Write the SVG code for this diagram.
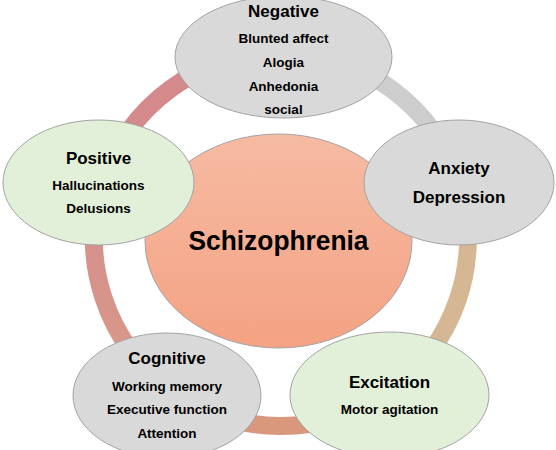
<svg xmlns="http://www.w3.org/2000/svg" width="556" height="450" viewBox="0 0 556 450">
<defs>
<linearGradient id="core" x1="0" y1="0" x2="0" y2="1">
<stop offset="0" stop-color="#f6bba3"/>
<stop offset="1" stop-color="#f4a283"/>
</linearGradient>
<linearGradient id="leftArc" gradientUnits="userSpaceOnUse" x1="0" y1="390" x2="0" y2="184">
<stop offset="0" stop-color="#d99a88"/>
<stop offset="1" stop-color="#d48d8d"/>
</linearGradient>
<style>
.arc{fill:none;stroke-width:18}
.node{stroke:#a3a3a3;stroke-width:1}
.gray{fill:#d9d9d9}
.green{fill:#e2efd9}
text{font-family:"Liberation Sans",Arial,sans-serif;font-weight:bold;fill:#000;text-anchor:middle}
.t{font-size:17px}
.s{font-size:13.5px}
</style>
</defs>
<rect width="556" height="450" fill="#ffffff"/>
<g id="connectors">
<path class="arc" stroke="#cdcdcd" d="M281,53 A187,187 0 0 1 458.9,182.2"/>
<path class="arc" stroke="#d5b893" d="M458.9,182.2 A187,187 0 0 1 388.3,392.2"/>
<path class="arc" stroke="#d9977c" d="M388.3,392.2 A187,187 0 0 1 171.1,390.3"/>
<path class="arc" stroke="url(#leftArc)" d="M171.1,390.3 A187,187 0 0 1 102.7,182.8"/>
<path class="arc" stroke="#d4898b" d="M102.7,182.8 A187,187 0 0 1 281,53"/>
</g>
<g id="schizophrenia">
<ellipse class="node" cx="278.5" cy="241" rx="133.5" ry="107" fill="url(#core)"/>
<text x="278.5" y="250" font-size="27" textLength="180" lengthAdjust="spacingAndGlyphs">Schizophrenia</text>
</g>
<g id="negative">
<ellipse class="node gray" cx="283.5" cy="57" rx="108.5" ry="61"/>
<text class="t" x="283.5" y="17">Negative</text>
<text class="s" x="283.5" y="43">Blunted affect</text>
<text class="s" x="283.5" y="67">Alogia</text>
<text class="s" x="283.5" y="91">Anhedonia</text>
<text class="s" x="283.5" y="114">social</text>
</g>
<g id="positive">
<ellipse class="node green" cx="98.5" cy="182.5" rx="95.5" ry="62.5"/>
<text class="t" x="98.5" y="164">Positive</text>
<text class="s" x="98.5" y="190">Hallucinations</text>
<text class="s" x="98.5" y="213">Delusions</text>
</g>
<g id="anxiety">
<ellipse class="node gray" cx="459" cy="182.5" rx="95" ry="62.5"/>
<text class="t" x="459" y="174">Anxiety</text>
<text class="t" x="459" y="203">Depression</text>
</g>
<g id="cognitive">
<ellipse class="node gray" cx="167" cy="395.5" rx="94" ry="62.5"/>
<text class="t" x="167" y="364">Cognitive</text>
<text class="s" x="167" y="391">Working memory</text>
<text class="s" x="167" y="414">Executive function</text>
<text class="s" x="167" y="438">Attention</text>
</g>
<g id="excitation">
<ellipse class="node green" cx="389.5" cy="395" rx="99.5" ry="63"/>
<text class="t" x="389.5" y="388">Excitation</text>
<text class="s" x="389.5" y="414">Motor agitation</text>
</g>
</svg>
